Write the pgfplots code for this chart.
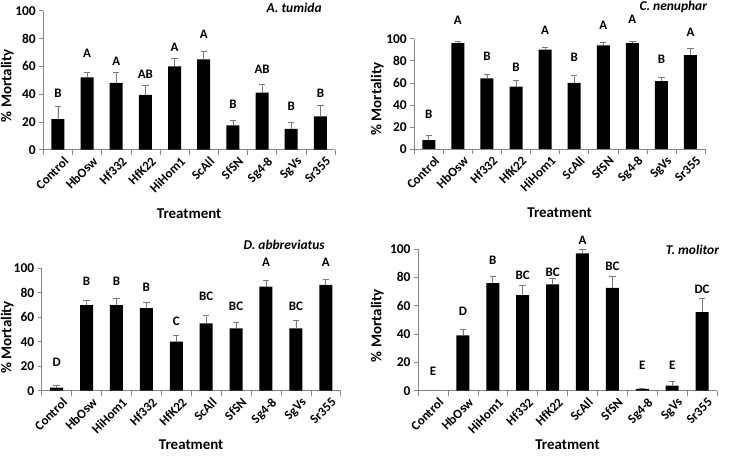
\documentclass[border=0pt]{standalone}
\usepackage{fontspec}
\setmainfont{Carlito}
\usepackage{pgfplots}
\pgfplotsset{compat=1.18}
\usepackage{pgfplotstable}

\definecolor{axgray}{RGB}{134,134,134}
\definecolor{errgray}{RGB}{120,120,120}

\pgfplotstableread{
x y e lab ly
0 22 9 B 40.5
1 52 4 A 69.3
2 48 8 A 63.3
3 39.5 6.5 AB 54.4
4 60 5.5 A 74
5 65 6 A 83.2
6 17.5 3.5 B 32.6
7 41 6 AB 57.8
8 15 4.5 B 31
9 24 8 B 40.5
}\dataA
\pgfplotstableread{
x y e lab ly
0 8 4 B 31.4
1 96 2 A 117
2 64 3.5 B 83.7
3 56.5 5.5 B 74
4 90 2.5 A 108
5 60 7 B 83
6 94 3 A 112
7 96 2 A 117.5
8 61.5 3.5 B 81
9 85 6 A 106
}\dataB
\pgfplotstableread{
x y e lab ly
0 2.5 2 D 23
1 70 3.5 B 89
2 70 5.5 B 89
3 67.5 4.5 B 84.5
4 40 5 C 56.4
5 55 6.5 BC 76.8
6 51 4.5 BC 68.7
7 85 5.5 A 105
8 51 6.5 BC 69.2
9 86.5 4.5 A 105
}\dataC
\pgfplotstableread{
x y e lab ly
0 0 0 E 13.4
1 39 4 D 55.8
2 76 4.5 B 91.8
3 67.5 6.5 BC 81.6
4 75 4 BC 83.3
5 97 3 A 105.9
6 72.5 8.5 BC 87.5
7 1.2 0.8 E 18.1
8 3.5 3 E 18.1
9 55.5 10 DC 71.5
}\dataD

\tikzset{ttl/.style={font=\bfseries\itshape\fontsize{13.5}{15}\selectfont}}

\pgfplotsset{
  panel/.style={
    scale only axis, anchor=south west,
    xmin=-0.5, xmax=9.5, ymin=0, ymax=100,
    axis x line*=bottom, axis y line*=left,
    axis line style={axgray, line width=0.6pt},
    xtick={0,...,9},
    minor xtick={-0.5,0.5,...,9.5},
    major x tick style={draw=none},
    minor x tick style={axgray, line width=0.6pt},
    minor tick length=5bp,
    ytick={0,20,...,100},
    y tick style={axgray, line width=0.6pt},
    major tick length=4bp,
    tick align=outside,
    clip=false,
    /pgf/number format/assume math mode=true,
    yticklabel style={font=\bfseries\fontsize{13.5}{15}\selectfont},
    xticklabel style={font=\bfseries\fontsize{13}{15}\selectfont, rotate=45, anchor=north east, inner sep=1pt, yshift=-4bp, xshift=3bp},
    xlabel={Treatment},
    ylabel={\% Mortality},
    xlabel style={font=\bfseries\fontsize{15}{17}\selectfont, anchor=center},
    ylabel style={font=\bfseries\fontsize{15}{17}\selectfont, anchor=center},
  },
  bars/.style={ybar, bar width=13bp, fill=black, draw=none,
    error bars/.cd, y dir=plus, y explicit,
    error bar style={errgray, line width=0.7pt},
    error mark options={rotate=90, errgray, mark size=3.2bp, line width=0.7pt}},
  letters/.style={only marks, mark=none, nodes near coords, point meta=explicit symbolic,
    nodes near coords style={anchor=center, font=\bfseries\fontsize{13}{15}\selectfont}},
}

\begin{document}
\begin{tikzpicture}
% Panel A
\begin{axis}[panel, at={(43.3bp,311.3bp)}, width=291.7bp, height=139bp,
  xticklabels={Control,HbOsw,Hf332,HfK22,HiHom1,ScAll,SfSN,Sg4-8,SgVs,Sr355},
  xlabel style={at={(axis description cs:0.5,-0.463)}},
  ylabel style={at={(axis description cs:-0.123,0.46)}}]
\addplot[bars] table[x=x, y=y, y error=e] {\dataA};
\addplot[letters] table[x=x, y=ly, meta=lab] {\dataA};
\node[ttl] at (axis description cs:0.860,1.024) {A. tumida};
\end{axis}
% Panel B
\begin{axis}[panel, at={(414.3bp,312bp)}, width=290.7bp, height=110.3bp,
  xticklabels={Control,HbOsw,Hf332,HfK22,HiHom1,ScAll,SfSN,Sg4-8,SgVs,Sr355},
  xlabel style={at={(axis description cs:0.5,-0.577)}},
  ylabel style={at={(axis description cs:-0.127,0.453)}}]
\addplot[bars] table[x=x, y=y, y error=e] {\dataB};
\addplot[letters] table[x=x, y=ly, meta=lab] {\dataB};
\node[ttl] at (axis description cs:0.891,1.29) {C. nenuphar};
\end{axis}
% Panel C
\begin{axis}[panel, at={(41.7bp,70.3bp)}, width=299bp, height=122.4bp,
  xticklabels={Control,HbOsw,HiHom1,Hf332,HfK22,ScAll,SfSN,Sg4-8,SgVs,Sr355},
  xlabel style={at={(axis description cs:0.5,-0.444)}},
  ylabel style={at={(axis description cs:-0.115,0.436)}}]
\addplot[bars] table[x=x, y=y, y error=e] {\dataC};
\addplot[letters] table[x=x, y=ly, meta=lab] {\dataC};
\node[ttl] at (axis description cs:0.811,1.19) {D. abbreviatus};
\end{axis}
% Panel D
\begin{axis}[panel, at={(418bp,70.3bp)}, width=299bp, height=141.7bp,
  xticklabels={Control,HbOsw,HiHom1,Hf332,HfK22,ScAll,SfSN,Sg4-8,SgVs,Sr355},
  xlabel style={at={(axis description cs:0.5,-0.383)}},
  ylabel style={at={(axis description cs:-0.136,0.459)}}]
\addplot[bars] table[x=x, y=y, y error=e] {\dataD};
\addplot[letters] table[x=x, y=ly, meta=lab] {\dataD};
\node[ttl] at (axis description cs:0.918,0.995) {T. molitor};
\end{axis}
\pgfresetboundingbox
\path[use as bounding box] (0,0) rectangle (737bp,461bp);
\end{tikzpicture}
\end{document}
